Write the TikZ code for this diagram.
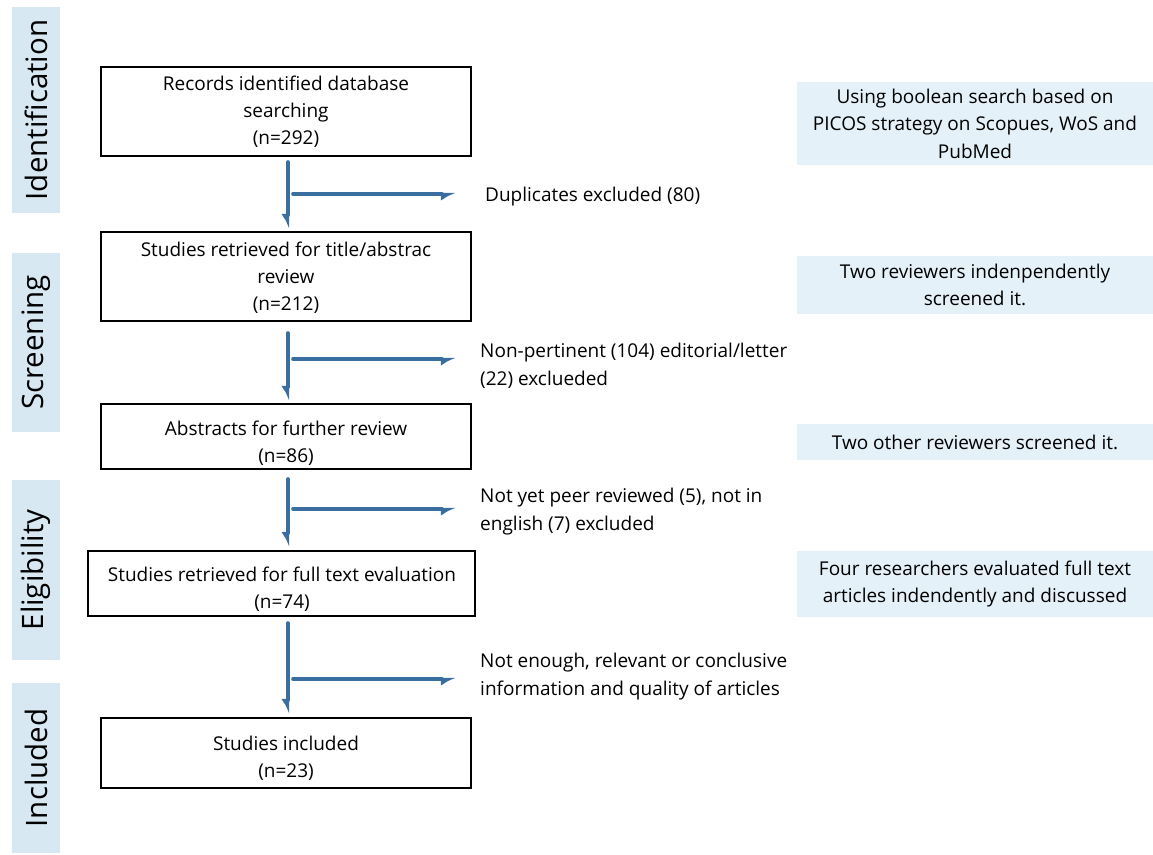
\documentclass[tikz,border=0pt]{standalone}
\usepackage{fontspec}
\setmainfont{Open Sans}
\usetikzlibrary{arrows.meta,calc}
\definecolor{arrowblue}{HTML}{3A6EA0}
\definecolor{phasefill}{HTML}{D7E8F2}
\definecolor{notefill}{HTML}{E4F1F8}
\tikzset{
  stagebox/.style={draw=black, line width=2.6pt, fill=white, minimum width=370pt, inner sep=0pt},
  stagetext/.style={align=center, font=\fontsize{19}{27}\selectfont, inner sep=0pt},
  phase/.style={fill=phasefill, minimum height=48pt, inner sep=0pt, rotate=90, font=\fontsize{29.5}{36}\selectfont},
  note/.style={fill=notefill, minimum width=356pt, inner sep=0pt, align=center, font=\fontsize{19}{27.5}\selectfont},
  sidetext/.style={align=left, anchor=west, font=\fontsize{19}{28}\selectfont, inner sep=0pt},
  flow/.style={draw=arrowblue, line width=3.6pt, line cap=round, -{Latex[harpoon,swap,length=12pt,width=14pt]}},
}
\begin{document}
\begin{tikzpicture}[x=1pt,y=-1pt]
\useasboundingbox (0,0) rectangle (1153,854);
% phase labels
\node[phase, minimum width=206pt] (ph1) at (36,110) {Identification};
\node[phase, minimum width=179pt] (ph2) at (36,342.5) {Screening};
\node[phase, minimum width=180pt] (ph3) at (36,570) {Eligibility};
\node[phase, minimum width=170pt] (ph4) at (36,768) {Included};
% main boxes
\node[stagebox, minimum height=89pt] (b1) at (286,111.5) {};
\node[stagetext] (t1) at (286,112) {Records identified database\\searching\\(n=292)};
\node[stagebox, minimum height=89pt] (b2) at (286,276.5) {};
\node[stagetext] (t2) at (286,278) {Studies retrieved for title/abstrac\\review\\(n=212)};
\node[stagebox, minimum height=65pt] (b3) at (286,436.5) {};
\node[stagetext] (t3) at (286,443) {Abstracts for further review\\(n=86)};
\node[stagebox, minimum width=387pt, minimum height=65pt] (b4) at (281.5,583.5) {};
\node[stagetext] (t4) at (282,589) {Studies retrieved for full text evaluation\\(n=74)};
\node[stagebox, minimum height=70pt] (b5) at (286,753) {};
\node[stagetext] (t5) at (286,758) {Studies included\\(n=23)};
% side texts
\node[sidetext] (s1) at (485,197) {Duplicates excluded (80)};
\node[sidetext] (s2) at (480,366) {Non-pertinent (104) editorial/letter\\(22) exclueded};
\node[sidetext] (s3) at (480,512) {Not yet peer reviewed (5), not in\\english (7) excluded};
\node[sidetext] (s4) at (480,677) {Not enough, relevant or conclusive\\information and quality of articles};
% notes
\node[note, minimum height=83pt] (n1) at (975,123.5) {Using boolean search based on\\PICOS strategy on Scopues, WoS and\\PubMed};
\node[note, minimum height=58pt] (n2) at (975,285) {Two reviewers indenpendently\\screened it.};
\node[note, minimum height=36pt] (n3) at (975,442) {Two other reviewers screened it.};
\node[note, minimum height=66pt] (n4) at (975,584) {Four researchers evaluated full text\\articles indendently and discussed};
% flow arrows
\coordinate (v1a) at (288,162); \coordinate (v1b) at (288,229);
\coordinate (h1a) at (293,194); \coordinate (h1b) at (456,194);
\draw[flow] (v1a) -- (v1b);
\draw[flow] (h1a) -- (h1b);
\coordinate (v2a) at (288,333); \coordinate (v2b) at (288,401);
\coordinate (h2a) at (293,359); \coordinate (h2b) at (456,359);
\draw[flow] (v2a) -- (v2b);
\draw[flow] (h2a) -- (h2b);
\coordinate (v3a) at (288,479); \coordinate (v3b) at (288,547);
\coordinate (h3a) at (293,509); \coordinate (h3b) at (456,509);
\draw[flow] (v3a) -- (v3b);
\draw[flow] (h3a) -- (h3b);
\coordinate (v4a) at (288,623); \coordinate (v4b) at (288,714);
\coordinate (h4a) at (293,679); \coordinate (h4b) at (456,679);
\draw[flow] (v4a) -- (v4b);
\draw[flow] (h4a) -- (h4b);
\end{tikzpicture}
\end{document}
